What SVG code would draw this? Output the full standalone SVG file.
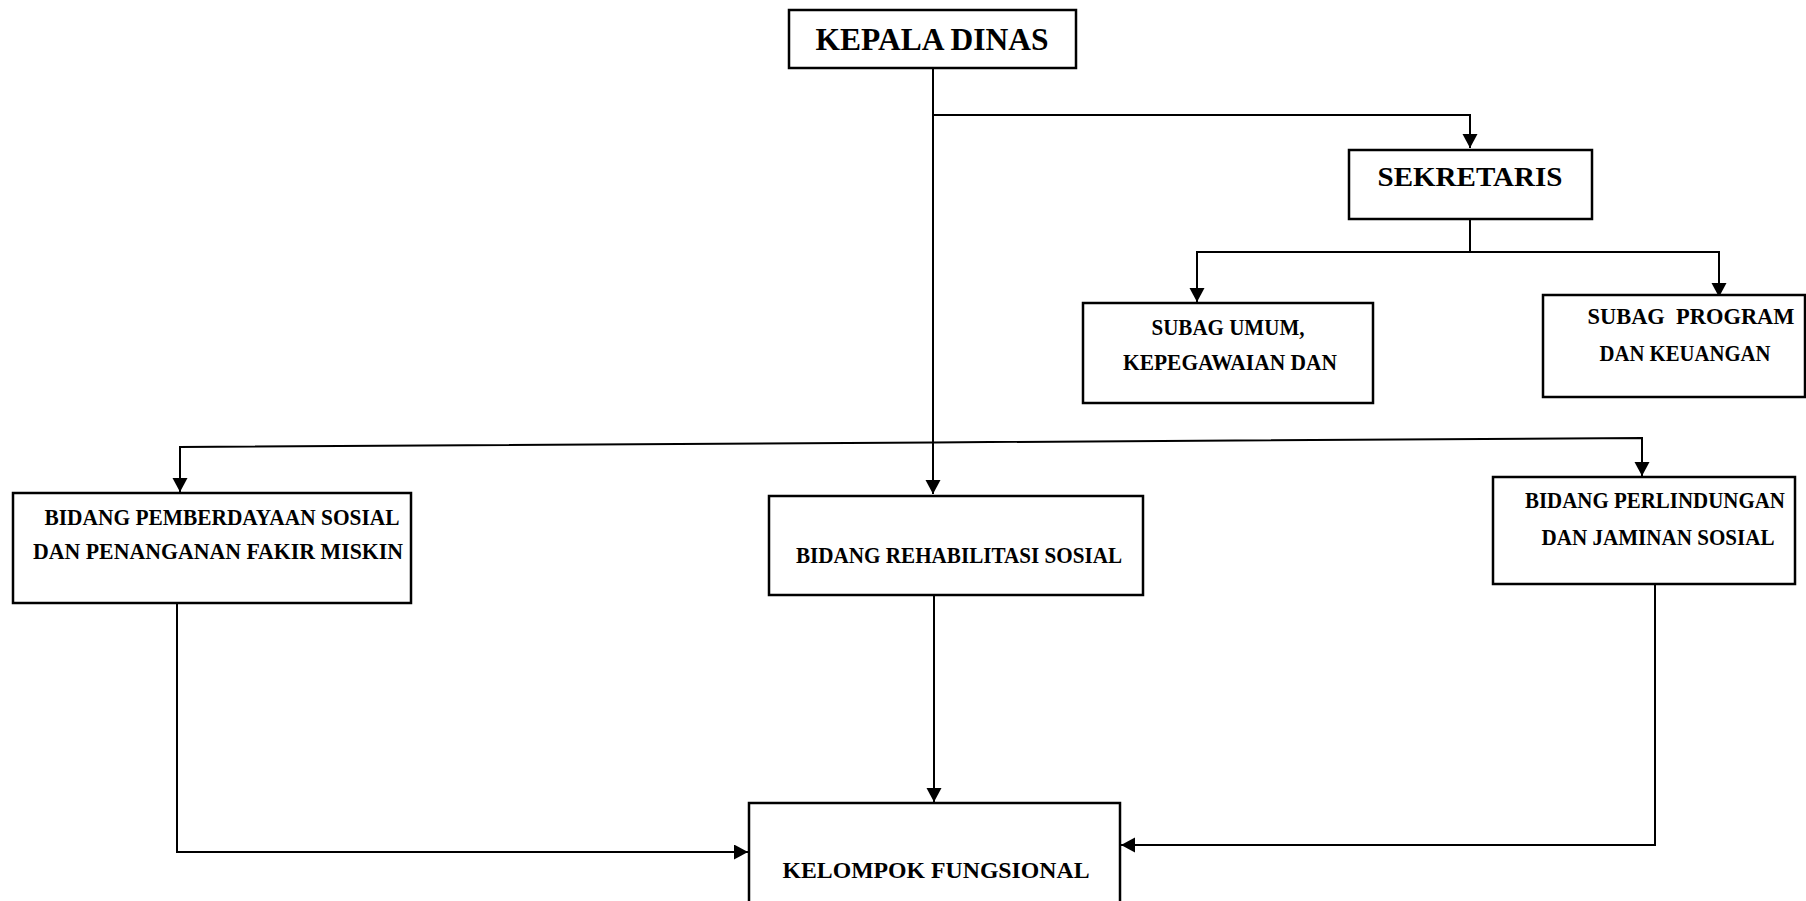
<svg xmlns="http://www.w3.org/2000/svg" width="1806" height="901" viewBox="0 0 1806 901">
<style>
.box{fill:#fff;stroke:#000;stroke-width:2.5}
.lbl{font-family:"Liberation Serif","Times New Roman",serif;font-weight:bold;fill:#000;text-anchor:middle}
.con{fill:none;stroke:#000;stroke-width:2}
</style>
<defs>
<marker id="arr" markerUnits="userSpaceOnUse" markerWidth="16" markerHeight="16" refX="14" refY="7.5" orient="auto">
<path d="M0,0 L14,7.5 L0,15 z" fill="#000"/>
</marker>
</defs>
<rect width="1806" height="901" fill="#fff"/>
<g id="connectors">
<path class="con" d="M933,68 V494" marker-end="url(#arr)"/>
<path class="con" d="M933,115 H1470 V148" marker-end="url(#arr)"/>
<path class="con" d="M1470,219 V252 H1197 V302" marker-end="url(#arr)"/>
<path class="con" d="M1470,252 H1719 V297" marker-end="url(#arr)"/>
<path class="con" d="M933,442.4 L180,447 V492" marker-end="url(#arr)"/>
<path class="con" d="M933,442.4 L1642,438 V476" marker-end="url(#arr)"/>
<path class="con" d="M177,603 V852 H748" marker-end="url(#arr)"/>
<path class="con" d="M934,595 V802" marker-end="url(#arr)"/>
<path class="con" d="M1655,584 V845 H1121" marker-end="url(#arr)"/>
</g>
<g id="kepala">
<rect class="box" x="789" y="10" width="287" height="58"/>
<text class="lbl" x="932" y="50" font-size="31" textLength="233" lengthAdjust="spacingAndGlyphs">KEPALA DINAS</text>
</g>
<g id="sekretaris">
<rect class="box" x="1349" y="150" width="243" height="69"/>
<text class="lbl" x="1470" y="186" font-size="28" textLength="185" lengthAdjust="spacingAndGlyphs">SEKRETARIS</text>
</g>
<g id="subag-umum">
<rect class="box" x="1083" y="303" width="290" height="100"/>
<text class="lbl" x="1228" y="335" font-size="23" textLength="153" lengthAdjust="spacingAndGlyphs">SUBAG UMUM,</text>
<text class="lbl" x="1230" y="370" font-size="23" textLength="214" lengthAdjust="spacingAndGlyphs">KEPEGAWAIAN DAN</text>
</g>
<g id="subag-program">
<rect class="box" x="1543" y="295" width="262" height="102"/>
<text class="lbl" x="1691" y="324" font-size="23" textLength="207" lengthAdjust="spacingAndGlyphs" xml:space="preserve">SUBAG  PROGRAM</text>
<text class="lbl" x="1685" y="361" font-size="23" textLength="171" lengthAdjust="spacingAndGlyphs">DAN KEUANGAN</text>
</g>
<g id="bidang-pemberdayaan">
<rect class="box" x="13" y="493" width="398" height="110"/>
<text class="lbl" x="222" y="525" font-size="23" textLength="355" lengthAdjust="spacingAndGlyphs">BIDANG PEMBERDAYAAN SOSIAL</text>
<text class="lbl" x="218" y="559" font-size="23" textLength="370" lengthAdjust="spacingAndGlyphs">DAN PENANGANAN FAKIR MISKIN</text>
</g>
<g id="bidang-rehabilitasi">
<rect class="box" x="769" y="496" width="374" height="99"/>
<text class="lbl" x="959" y="563" font-size="23" textLength="326" lengthAdjust="spacingAndGlyphs">BIDANG REHABILITASI SOSIAL</text>
</g>
<g id="bidang-perlindungan">
<rect class="box" x="1493" y="477" width="302" height="107"/>
<text class="lbl" x="1655" y="508" font-size="23" textLength="260" lengthAdjust="spacingAndGlyphs">BIDANG PERLINDUNGAN</text>
<text class="lbl" x="1658" y="545" font-size="23" textLength="233" lengthAdjust="spacingAndGlyphs">DAN JAMINAN SOSIAL</text>
</g>
<g id="kelompok">
<rect class="box" x="749" y="803" width="371" height="110"/>
<text class="lbl" x="936" y="878" font-size="24" textLength="307" lengthAdjust="spacingAndGlyphs">KELOMPOK FUNGSIONAL</text>
</g>
</svg>
